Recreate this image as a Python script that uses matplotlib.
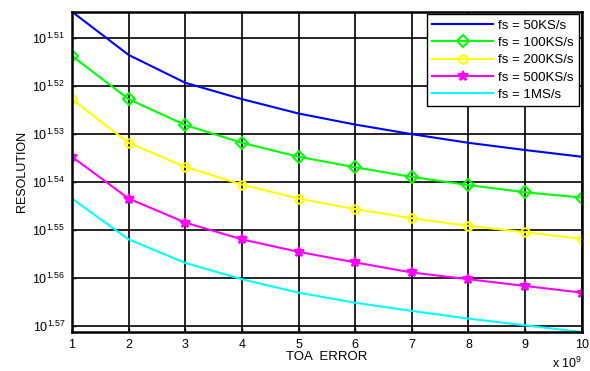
import numpy as np
import matplotlib
matplotlib.use("Agg")
import matplotlib.pyplot as plt
from matplotlib.ticker import FixedLocator, FixedFormatter, NullLocator

plt.rcParams["font.family"] = ["Liberation Sans", "DejaVu Sans"]
plt.rcParams["mathtext.fontset"] = "custom"
plt.rcParams["mathtext.rm"] = "Liberation Sans"
plt.rcParams["mathtext.it"] = "Liberation Sans"

# x positions (TOA error, x 10^9)
toa = [1, 2, 3, 4, 5, 6, 7, 8, 9, 10]

# exponents (axis shows 10^1.51 ... 10^1.57, top to bottom)
exp_50k = [1.5046, 1.5136, 1.5194, 1.5228, 1.5258, 1.5281, 1.5301, 1.5319, 1.5334, 1.5348]
exp_100k = [1.5138, 1.5228, 1.5282, 1.5319, 1.5348, 1.5370, 1.5390, 1.5407, 1.5422, 1.5433]
exp_200k = [1.5228, 1.5319, 1.5369, 1.5406, 1.5435, 1.5457, 1.5476, 1.5492, 1.5505, 1.5519]
exp_500k = [1.5348, 1.5435, 1.5485, 1.5520, 1.5546, 1.5568, 1.5589, 1.5603, 1.5617, 1.5631]
exp_1m = [1.5435, 1.5520, 1.5569, 1.5603, 1.5631, 1.5652, 1.5669, 1.5685, 1.5699, 1.5713]

tick_exp = [1.51, 1.52, 1.53, 1.54, 1.55, 1.56, 1.57]
tick_labels = ["$10^{%.2f}$" % t for t in tick_exp]

series = [
    (exp_50k, "fs = 50KS/s", (0, 0, 1), None),
    (exp_100k, "fs = 100KS/s", (0, 1, 0), "D"),
    (exp_200k, "fs = 200KS/s", (1, 1, 0), "o"),
    (exp_500k, "fs = 500KS/s", (1, 0, 1), "*"),
    (exp_1m, "fs = 1MS/s", (0, 1, 1), None),
]

fig = plt.figure(figsize=(5.9, 3.71), dpi=100)
ax = fig.add_axes([0.122, 0.105, 0.864, 0.8635])

for vals, lab, col, mk in series:
    y = 10.0 ** (-np.array(vals))
    ax.plot(toa, y, color=col, lw=1.5, marker=mk, markersize=6 if mk != "*" else 7,
            markerfacecolor="none" if mk in ("D", "o") else col,
            markeredgecolor=col, markeredgewidth=1.5, label=lab)

ax.set_yscale("log")
ax.set_xlim(1, 10)
ax.set_ylim(10 ** -1.5713, 10 ** -1.5046)
ax.yaxis.set_major_locator(FixedLocator([10 ** -t for t in tick_exp]))
ax.yaxis.set_major_formatter(FixedFormatter(tick_labels))
ax.yaxis.set_minor_locator(NullLocator())
ax.set_xticks(toa)

ax.grid(True, color="black", lw=1.2, ls="-")
for s in ax.spines.values():
    s.set_linewidth(1.8)
ax.tick_params(direction="in", length=3, width=1, labelsize=9, pad=5)

ax.set_xlabel("TOA  ERROR", fontsize=9.5, labelpad=0)
ax.set_ylabel("RESOLUTION", fontsize=9, labelpad=3)
ax.text(1.0, -0.112, "x 10$^{9}$", transform=ax.transAxes, ha="right", va="baseline", fontsize=9)

leg = ax.legend(loc="upper right", fontsize=9.5, frameon=True, fancybox=False,
                edgecolor="black", framealpha=1, borderaxespad=0.2, handlelength=4.6,
                labelspacing=0.38, handletextpad=0.4, borderpad=0.4)
leg.get_frame().set_linewidth(1.0)

fig.savefig("out.png", dpi=100)
